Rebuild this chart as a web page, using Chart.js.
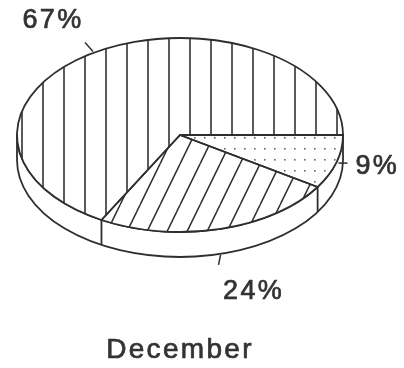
<!DOCTYPE html>
<html>
<head>
<meta charset="utf-8">
<script src="https://cdn.jsdelivr.net/npm/chart.js@4.4.1/dist/chart.umd.min.js"></script>
<style>
  html, body { margin: 0; padding: 0; background: #fff; }
</style>
</head>
<body>
<canvas id="pieChart" width="404" height="368"></canvas>
<script>
const sliceValues = [9, 24, 67]
const sliceLabels = sliceValues.map(v => `${v}%`)
const chartTitle = 'December'

// ellipse the flat pie is squashed into, plus the height of the side wall
const face = { cx: 180, cy: 135, rx: 163, ry: 97, depth: 25 }
const ink = '#2e2e2e'
const textColor = '#333'
const fontFamily = "'Liberation Sans', Arial, sans-serif"

// tick start/end and text anchor, relative to the slice's mid point on the top face
const labelSpots = [
    { from: [2, 1], to: [11, 1], text: [19, 4], align: 'left' },
    { from: [0, 26], to: [-2, 36], text: [33, 63], align: 'center' },
    { from: [-4, 0], to: [-12, -9], text: [-44, -31], align: 'center' }
]

function makeTile(w, h, paint) {
    const c = document.createElement('canvas')
    c.width = w
    c.height = h
    const g = c.getContext('2d')
    g.fillStyle = '#fff'
    g.fillRect(0, 0, w, h)
    paint(g, w, h)
    return c
}

const dotTile = makeTile(10, 11, g => {
    g.fillStyle = '#666'
    g.fillRect(4, 5, 1.6, 1.6)
})
const slantTile = makeTile(20, 41, (g, w, h) => {
    g.strokeStyle = ink
    g.lineWidth = 1.5
    for (let k = -1; k <= 1; k++) {
        g.beginPath()
        g.moveTo(k * w, h)
        g.lineTo(k * w + w, 0)
        g.stroke()
    }
})
const stripeTile = makeTile(21, 21, g => {
    g.fillStyle = '#333'
    g.fillRect(0.2, 0, 1.6, 21)
})

const ctx = document.getElementById('pieChart').getContext('2d')
const fills = [dotTile, slantTile, stripeTile].map(t => ctx.createPattern(t, 'repeat'))

function faceMatrix(chart) {
    const arc = chart.getDatasetMeta(0).data[0]
    const r = arc.outerRadius
    return new DOMMatrix()
        .translate(face.cx, face.cy)
        .scale(face.rx / r, face.ry / r)
        .translate(-arc.x, -arc.y)
}

function onFace(a) {
    return [face.cx + face.rx * Math.cos(a), face.cy + face.ry * Math.sin(a)]
}

function drawWall(chart) {
    const c = chart.ctx
    const { cx, cy, rx, ry, depth } = face
    c.save()
    c.beginPath()
    c.ellipse(cx, cy, rx, ry, 0, 0, Math.PI)
    c.ellipse(cx, cy + depth, rx, ry, 0, Math.PI, 0, true)
    c.closePath()
    c.fillStyle = '#fff'
    c.fill()
    c.lineWidth = 1.8
    c.strokeStyle = ink
    c.lineJoin = 'round'
    c.stroke()
    // seams where two slices meet on the front half
    chart.getDatasetMeta(0).data.forEach(arc => {
        const a = ((arc.startAngle % (2 * Math.PI)) + 2 * Math.PI) % (2 * Math.PI)
        if (a > 0.01 && a < Math.PI - 0.01) {
            const [x, y] = onFace(a)
            c.beginPath()
            c.moveTo(x, y)
            c.lineTo(x, y + depth)
            c.stroke()
        }
    })
    c.restore()
}

const tilt = {
    id: 'tilt',
    beforeDraw(chart) {
        const c = chart.ctx
        c.letterSpacing = '2.3px'
        c.lineWidth = 0.7
        c.strokeStyle = textColor
    },
    afterDraw(chart) {
        // thicken the title a touch, like the labels
        const c = chart.ctx
        const t = chart.titleBlock
        c.save()
        c.font = `28px ${fontFamily}`
        c.letterSpacing = '2.3px'
        c.textAlign = 'center'
        c.textBaseline = 'middle'
        c.lineWidth = 0.7
        c.strokeStyle = textColor
        c.strokeText(chartTitle, (t.left + t.right) / 2, (t.top + t.bottom) / 2)
        c.restore()
    },
    beforeDatasetsDraw(chart) {
        const c = chart.ctx
        const m = faceMatrix(chart)
        const inv = m.inverse()
        fills.forEach(p => p.setTransform(inv))
        drawWall(chart)
        c.save()
        c.transform(m.a, m.b, m.c, m.d, m.e, m.f)
    },
    afterDatasetsDraw(chart) {
        const c = chart.ctx
        c.restore()
        const { cx, cy, rx, ry } = face
        const arcs = chart.getDatasetMeta(0).data
        c.save()
        c.lineWidth = 1.8
        c.strokeStyle = ink
        c.lineJoin = 'round'
        arcs.forEach(arc => {
            c.beginPath()
            c.moveTo(cx, cy)
            c.ellipse(cx, cy, rx, ry, 0, arc.startAngle, arc.endAngle)
            c.closePath()
            c.stroke()
        })
        // percentage labels with their little ticks
        c.font = `27px ${fontFamily}`
        c.fillStyle = textColor
        c.textBaseline = 'middle'
        arcs.forEach((arc, i) => {
            const spot = labelSpots[i]
            const [x, y] = onFace((arc.startAngle + arc.endAngle) / 2)
            c.lineWidth = 1.5
            c.strokeStyle = ink
            c.beginPath()
            c.moveTo(x + spot.from[0], y + spot.from[1])
            c.lineTo(x + spot.to[0], y + spot.to[1])
            c.stroke()
            c.textAlign = spot.align
            const tx = x + spot.text[0]
            const ty = y + spot.text[1]
            c.fillText(sliceLabels[i], tx, ty)
            c.lineWidth = 0.7
            c.strokeStyle = textColor
            c.strokeText(sliceLabels[i], tx, ty)
        })
        c.restore()
    }
}

new Chart(ctx, {
    type: 'pie',
    data: {
        labels: sliceLabels,
        datasets: [{
            data: sliceValues,
            backgroundColor: fills,
            borderWidth: 0,
            clip: false
        }]
    },
    options: {
        responsive: false,
        animation: false,
        events: [],
        rotation: 90,
        layout: { padding: { left: 17, right: 61, top: 0, bottom: 1 } },
        plugins: {
            legend: { display: false },
            tooltip: { enabled: false },
            title: {
                display: true,
                text: chartTitle,
                position: 'bottom',
                color: textColor,
                padding: 0,
                font: { family: fontFamily, size: 28, weight: 'normal' }
            }
        }
    },
    plugins: [tilt]
})
</script>
</body>
</html>
